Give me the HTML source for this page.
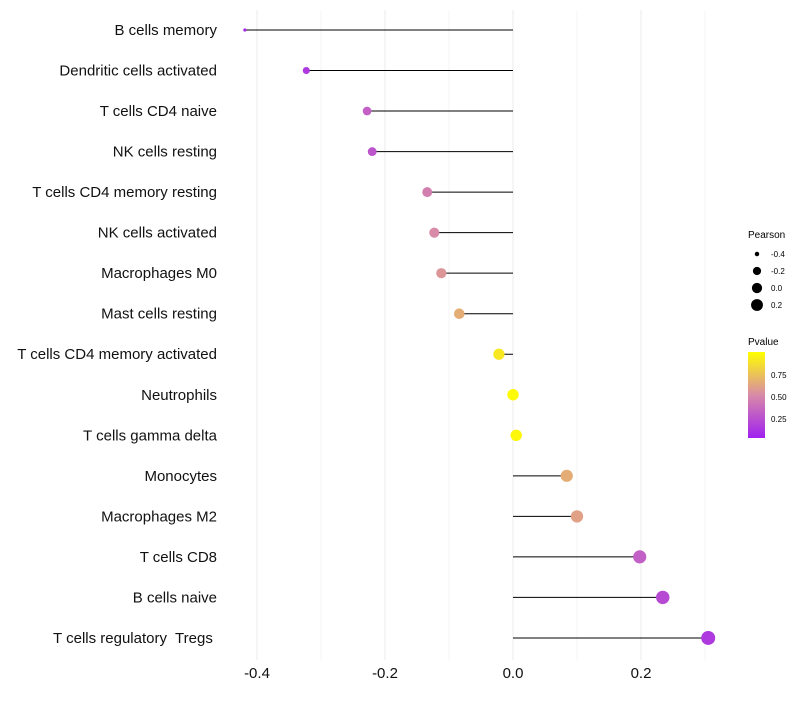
<!DOCTYPE html>
<html><head><meta charset="utf-8"><style>
body{margin:0;background:#fff;font-family:"Liberation Sans",sans-serif}
</style></head><body>
<svg id="chart" width="800" height="700" xmlns="http://www.w3.org/2000/svg" font-family="Liberation Sans, sans-serif">
<defs><linearGradient id="pg" x1="0" y1="1" x2="0" y2="0">
<stop offset="0" stop-color="#a020f0"/><stop offset="0.5" stop-color="#d88aa8"/><stop offset="1" stop-color="#ffff00"/></linearGradient></defs>
<g id="grid"></g>
<g id="marks"></g>
<g id="labels"></g>
<g id="xticks"></g>
<g>
<text x="748" y="238" font-size="10">Pearson</text>
<g id="sizeLegend"></g>
</g>
<g>
<text x="748" y="345" font-size="10">Pvalue</text>
<rect x="748" y="352" width="17" height="86" fill="url(#pg)"/>
<text x="771" y="378" font-size="8">0.75</text>
<text x="771" y="400" font-size="8">0.50</text>
<text x="771" y="422" font-size="8">0.25</text>
</g>
</svg>
<script>
const categories=["B cells memory","Dendritic cells activated","T cells CD4 naive","NK cells resting","T cells CD4 memory resting","NK cells activated","Macrophages M0","Mast cells resting","T cells CD4 memory activated","Neutrophils","T cells gamma delta","Monocytes","Macrophages M2","T cells CD8","B cells naive","T cells regulatory  Tregs "];
const pearson=[-0.419,-0.323,-0.228,-0.22,-0.134,-0.123,-0.112,-0.084,-0.022,0.0,0.005,0.084,0.1,0.198,0.234,0.305];
const pvalue=[0.05,0.12,0.3,0.25,0.45,0.5,0.55,0.65,0.9,0.98,0.97,0.65,0.6,0.3,0.2,0.12];
const xTicks=[-0.4,-0.2,0.0,0.2];
const xTickLabels=["-0.4","-0.2","0.0","0.2"];
const sizeLegend=[-0.4,-0.2,0.0,0.2];
const NS="http://www.w3.org/2000/svg";
const x=v=>513+640*v;
const y=i=>30+i*40.53;
const pmin=Math.min(...pearson),pmax=Math.max(...pearson);
const r=v=>{const t=Math.max(0,Math.min(1,(v-pmin)/(pmax-pmin)));return 1.6+5.4*Math.sqrt(t);};
function col(p){const a=[160,32,240],b=[216,138,168],c=[255,255,0];let t,s,e;
 if(p<0.5){t=p/0.5;s=a;e=b}else{t=(p-0.5)/0.5;s=b;e=c}
 return `rgb(${s.map((q,k)=>Math.round(q+(e[k]-q)*t)).join(',')})`;}
function mk(tag,at,parent){const el=document.createElementNS(NS,tag);for(const k in at)el.setAttribute(k,at[k]);parent.appendChild(el);return el;}
const grid=document.getElementById('grid'),marks=document.getElementById('marks'),labels=document.getElementById('labels'),xt=document.getElementById('xticks');
[-0.4,-0.3,-0.2,-0.1,0,0.1,0.2,0.3].forEach((v,i)=>{const l=mk('line',{x1:x(v),x2:x(v),y1:10,y2:660,stroke:i%2?'#f4f4f4':'#ebebeb','stroke-width':1},grid);

});
categories.forEach((c,i)=>{
 const ln=mk('line',{x1:x(0),x2:x(pearson[i]),y1:y(i),y2:y(i),stroke:'#000','stroke-width':1},marks);
 
 
 const d=mk('circle',{cx:x(pearson[i]),cy:y(i),r:r(pearson[i]),fill:col(pvalue[i])},marks);
 
 
 const t=mk('text',{x:217,y:y(i)+5,'text-anchor':'end','font-size':15,fill:'#111'},labels);
 t.setAttribute('xml:space','preserve');
 t.style.whiteSpace='pre';
 t.textContent=c;
 
 
});
xTicks.forEach((v,i)=>{const t=mk('text',{x:x(v),y:678,'text-anchor':'middle','font-size':15,fill:'#111'},xt);t.textContent=xTickLabels[i];

});
const sl=document.getElementById('sizeLegend');
sizeLegend.forEach((v,i)=>{const cy=254+i*17;
 const c=mk('circle',{cx:757,cy:cy,r:Math.max(2,r(v)*0.9),fill:'#000'},sl);
 
 
 const t=mk('text',{x:771,y:cy+3,'font-size':8},sl);t.textContent=v.toFixed(1).replace('-0.0','0.0');
 
 });
</script>
</body></html>
